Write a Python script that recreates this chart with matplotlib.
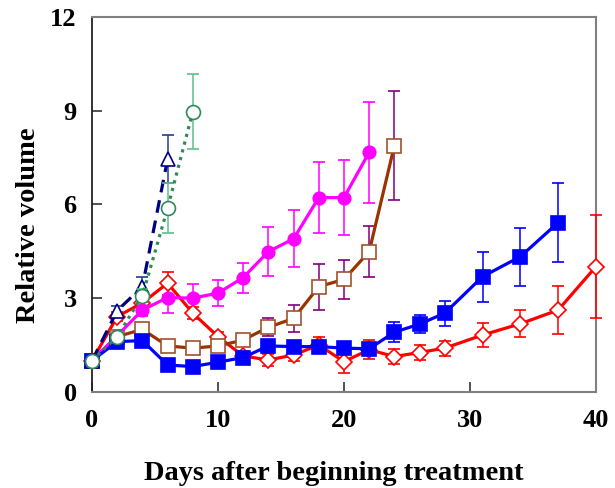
import matplotlib
matplotlib.use("Agg")
import matplotlib.pyplot as plt

# Red open diamonds (long series)
d_red = [0, 2, 4, 6, 8, 10, 12, 14, 16, 18, 20, 22, 24, 26, 28, 31, 34, 37, 40]
v_red = [1.0, 2.41, 2.85, 3.48, 2.52, 1.77, 1.15, 1.02, 1.18, 1.5, 0.97, 1.35, 1.13, 1.26, 1.4, 1.82, 2.18, 2.62, 4.01]
e_red = [0.05, 0.15, 0.2, 0.37, 0.2, 0.15, 0.15, 0.18, 0.2, 0.25, 0.38, 0.3, 0.24, 0.24, 0.24, 0.38, 0.43, 0.76, 1.64]

# Brown open squares
d_brown = [0, 2, 4, 6, 8, 10, 12, 14, 16, 18, 20, 22, 24]
v_brown = [1.0, 1.77, 2.0, 1.47, 1.4, 1.47, 1.66, 2.07, 2.35, 3.37, 3.6, 4.49, 7.88]
e_brown = [0.05, 0.1, 0.15, 0.1, 0.12, 0.12, 0.15, 0.28, 0.43, 0.74, 0.63, 0.81, 1.75]

# Magenta filled circles
d_mag = [0, 2, 4, 6, 8, 10, 12, 14, 16, 18, 20, 22]
v_mag = [1.0, 1.8, 2.62, 3.02, 3.0, 3.16, 3.66, 4.49, 4.9, 6.22, 6.22, 7.67]
e_mag = [0.05, 0.15, 0.2, 0.51, 0.45, 0.42, 0.48, 0.78, 0.91, 1.14, 1.19, 1.61]

# Blue filled squares
d_blue = [0, 2, 4, 6, 8, 10, 12, 14, 16, 18, 20, 22, 24, 26, 28, 31, 34, 37]
v_blue = [1.0, 1.61, 1.64, 0.86, 0.81, 0.95, 1.1, 1.47, 1.45, 1.45, 1.4, 1.38, 1.91, 2.17, 2.52, 3.69, 4.33, 5.42]
e_blue = [0.05, 0.2, 0.15, 0.1, 0.1, 0.1, 0.12, 0.15, 0.15, 0.15, 0.15, 0.15, 0.32, 0.28, 0.4, 0.8, 0.93, 1.27]

# Green open circles (dotted)
d_green = [0, 2, 4, 6, 8]
v_green = [1.0, 1.77, 3.08, 5.88, 8.97]
e_green = [0.05, 0.15, 0.2, 0.8, 1.2]

# Navy open triangles (dashed)
d_navy = [0, 2, 4, 6]
v_navy = [1.0, 2.6, 3.37, 7.45]
e_navy = [0.05, 0.15, 0.3, 0.76]

fig = plt.figure(figsize=(6.15, 4.88), dpi=100)
ax = fig.add_axes([0.1496, 0.197, 0.8194, 0.768])

bold_serif = {"family": "Liberation Serif", "weight": "bold", "size": 20.5}

def serie(x, y, e, color, ecolor, marker, ms, face, ls="-", edge=None, z=2):
    ax.errorbar(x, y, yerr=e, color=color, ecolor=ecolor, elinewidth=1.1,
                capsize=4.5, capthick=1.1, linestyle=ls, linewidth=2.3,
                marker=marker, markersize=ms, markerfacecolor=face,
                markeredgecolor=edge if edge else color, markeredgewidth=1.2,
                zorder=z, clip_on=False)

serie(d_red, v_red, e_red, "#ff0000", "#ff0000", "D", 8, "white", z=3)
serie(d_brown, v_brown, e_brown, "#993300", "#800080", "s", 10, "white", edge="#a0522d", z=3)
serie(d_mag, v_mag, e_mag, "#ff00ff", "#ff00ff", "o", 9, "#ff00ff", z=3)
serie(d_blue, v_blue, e_blue, "#0000ff", "#0000ff", "s", 9.5, "#0000ff", z=4)
serie(d_navy, v_navy, e_navy, "#000080", "#1f3f8f", "^", 10, "white", ls=(0, (4, 2.5)), z=5)
serie(d_green, v_green, e_green, "#2e8b57", "#5fbf8a", "o", 10, "white", ls=(0, (1, 1.5)), z=6)

ax.set_xlim(0, 40)
ax.set_ylim(0, 12)
ax.set_xticks([0, 10, 20, 30, 40])
ax.set_yticks([0, 3, 6, 9, 12])
ax.tick_params(direction="in", length=7, width=1.2, color="#333333")
ax.tick_params(axis="x", pad=12)
ax.tick_params(axis="y", pad=11)
for lab in ax.get_xticklabels() + ax.get_yticklabels():
    lab.set_fontfamily("Liberation Serif")
    lab.set_fontweight("bold")
    lab.set_fontsize(19)

for side in ["top", "right"]:
    ax.spines[side].set_color("#808080")
    ax.spines[side].set_linewidth(1.5)
ax.spines["left"].set_color("#222222")
ax.spines["bottom"].set_color("#808080")
ax.spines["left"].set_linewidth(1.3)
ax.spines["bottom"].set_linewidth(1.5)

fig.text(0.543, 0.0164, "Days after beginning treatment", fontdict=bold_serif,
         ha="center", va="baseline")
fig.text(0.047, 0.538, "Relative volume", fontdict=bold_serif,
         ha="center", va="center", rotation=90)

fig.savefig("out.png", dpi=100)
